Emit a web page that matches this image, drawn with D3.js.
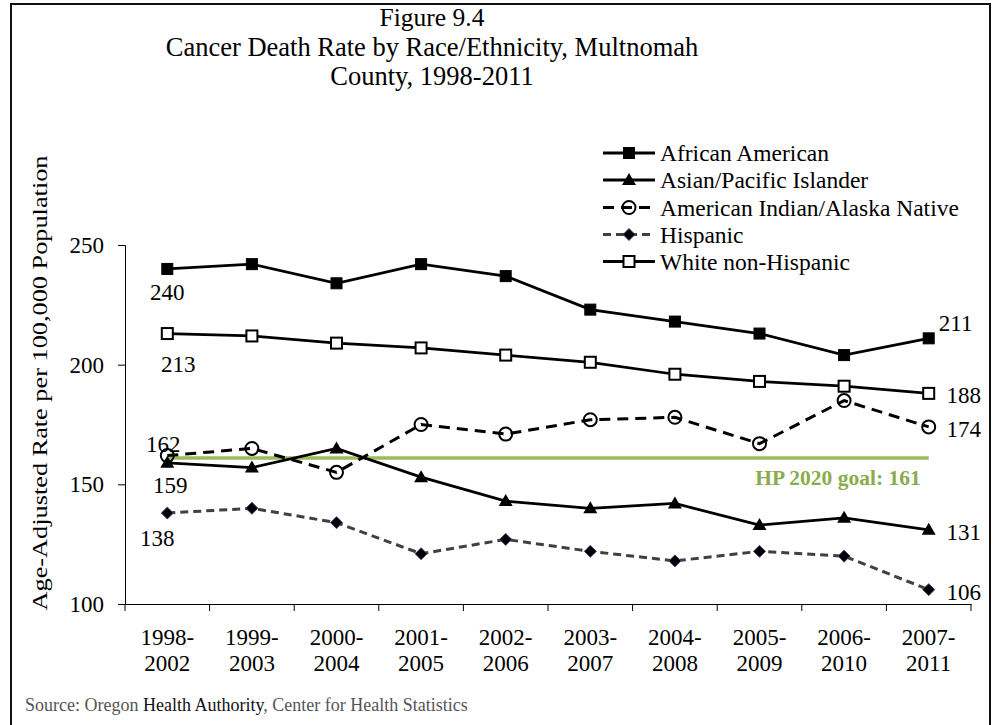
<!DOCTYPE html>
<html><head><meta charset="utf-8">
<script src="https://cdn.jsdelivr.net/npm/d3@7"></script>
<style>
html,body{margin:0;padding:0;background:#fff;}
svg text{font-family:"Liberation Serif","Times New Roman",serif;}
</style></head>
<body>
<svg id="chart" width="995" height="725"></svg>
<script>
const periods = ["1998-2002","1999-2003","2000-2004","2001-2005","2002-2006","2003-2007","2004-2008","2005-2009","2006-2010","2007-2011"];
const africanAmerican = [240,242,234,242,237,223,218,213,204,211];
const asianPacific = [159,157,165,153,143,140,142,133,136,131];
const americanIndian = [162,165,155,175,171,177,178,167,185,174];
const hispanic = [138,140,134,121,127,122,118,122,120,106];
const whiteNonHispanic = [213,212,209,207,204,201,196,193,191,188];
const yTicks = [100,150,200,250];
const goalValue = 161;
const titleLines = ["Figure 9.4","Cancer Death Rate by Race/Ethnicity, Multnomah","County, 1998-2011"];

const series = [
  {name:"African American", values:africanAmerican, marker:"square", fill:"#000", stroke:"#000", dash:null, lineColor:"#000"},
  {name:"Asian/Pacific Islander", values:asianPacific, marker:"triangle", fill:"#000", stroke:"#000", dash:null, lineColor:"#000"},
  {name:"American Indian/Alaska Native", values:americanIndian, marker:"circle", fill:"none", stroke:"#000", dash:"11,7", lineColor:"#000"},
  {name:"Hispanic", values:hispanic, marker:"diamond", fill:"#000", stroke:"#4b3a78", dash:"8,5", lineColor:"#404040"},
  {name:"White non-Hispanic", values:whiteNonHispanic, marker:"square", fill:"#fff", stroke:"#000", dash:null, lineColor:"#000"}
];

const svg = d3.select("#chart");
// frame
svg.append("path").attr("d","M11,726 V4 H990 V726").attr("fill","none").attr("stroke","#111").attr("stroke-width",2);

const x = d3.scaleBand().domain(periods).range([125,971]);
const y = d3.scaleLinear().domain([100,250]).range([604,245]);
const cx = p => x(p) + x.bandwidth()/2;

// title
svg.append("g").selectAll("text").data(titleLines).join("text")
  .attr("x",432).attr("y",(d,i)=>[26,56,85][i]).attr("text-anchor","middle")
  .attr("font-size",(d,i)=>i===0?25.5:26.5).attr("fill","#000").text(d=>d);

// axes
const yAxis = svg.append("g").attr("transform","translate(125,0)")
  .call(d3.axisLeft(y).tickValues(yTicks).tickSize(7).tickPadding(14));
yAxis.select(".domain").attr("stroke","#000");
yAxis.selectAll("text").attr("font-size",23).attr("font-family","Liberation Serif, Times New Roman, serif").attr("fill","#000");

const xAxis = svg.append("g").attr("transform","translate(0,604)")
  .call(d3.axisBottom(x).tickValues([]).tickSizeOuter(0));
xAxis.select(".domain").attr("stroke","#000");
svg.append("g").selectAll("line").data(d3.range(periods.length+1)).join("line")
  .attr("x1",i=>125+i*x.bandwidth()).attr("x2",i=>125+i*x.bandwidth())
  .attr("y1",604).attr("y2",611).attr("stroke","#000");

const xl = svg.append("g").selectAll("text").data(periods).join("text")
  .attr("x",d=>cx(d)).attr("text-anchor","middle").attr("font-size",23).attr("fill","#000");
xl.append("tspan").attr("x",d=>cx(d)).attr("y",645).text(d=>d.split("-")[0]+"-");
xl.append("tspan").attr("x",d=>cx(d)).attr("y",671).text(d=>d.split("-")[1]);

// y title
svg.append("text").attr("transform","translate(47,383) rotate(-90)")
  .attr("text-anchor","middle").attr("font-size",22).attr("fill","#000")
  .attr("textLength",455).attr("lengthAdjust","spacingAndGlyphs")
  .text("Age-Adjusted Rate per 100,000 Population");

// goal line
svg.append("line").attr("x1",cx(periods[0])).attr("x2",cx(periods[periods.length-1]))
  .attr("y1",y(goalValue)).attr("y2",y(goalValue)).attr("stroke","#9bbb59").attr("stroke-width",3.5);
svg.append("text").attr("x",838).attr("y",485).attr("text-anchor","middle")
  .attr("font-size",21.5).attr("font-weight","bold").attr("fill","#8aac4e")
  .text("HP 2020 goal: " + goalValue);

function drawMarker(g, s, px, py){
  if(s.marker==="square"){
    g.append("rect").attr("x",px-5.5).attr("y",py-5.5).attr("width",11).attr("height",11)
      .attr("fill",s.fill).attr("stroke",s.stroke).attr("stroke-width",s.fill==="#fff"?2:1);
  } else if(s.marker==="triangle"){
    g.append("path").attr("d",`M${px},${py-7} L${px+7},${py+5} L${px-7},${py+5} Z`).attr("fill","#000");
  } else if(s.marker==="circle"){
    g.append("circle").attr("cx",px).attr("cy",py).attr("r",6.5).attr("fill","none").attr("stroke","#000").attr("stroke-width",2);
  } else if(s.marker==="diamond"){
    g.append("path").attr("d",`M${px},${py-6} L${px+6},${py} L${px},${py+6} L${px-6},${py} Z`)
      .attr("fill","#000").attr("stroke",s.stroke).attr("stroke-width",1);
  }
}

const line = d3.line().x((d,i)=>cx(periods[i])).y(d=>y(d));
const drawOrder = [3,1,2,4,0];
drawOrder.forEach(k=>{
  const s = series[k];
  const g = svg.append("g");
  g.append("path").attr("d",line(s.values)).attr("fill","none").attr("stroke",s.lineColor)
    .attr("stroke-width",s.dash? 3 : 2.75).attr("stroke-dasharray",s.dash);
  s.values.forEach((v,i)=>drawMarker(g,s,cx(periods[i]),y(v)));
});

// data labels (first and last values)
const labelFirst = [
  {s:0, dx:0, dy:23},{s:4, dx:11, dy:30},{s:2, dx:-4, dy:-12},{s:1, dx:3, dy:22},{s:3, dx:-10, dy:25}
];
const labelLast = [
  {s:0, dx:27, dy:-15},{s:4, dx:35, dy:2},{s:2, dx:35, dy:2},{s:1, dx:35, dy:2},{s:3, dx:35, dy:2}
];
const lg = svg.append("g");
labelFirst.forEach(l=>{
  const v = series[l.s].values[0];
  lg.append("text").attr("x",cx(periods[0])+l.dx).attr("y",y(v)+l.dy).attr("dy","0.35em")
    .attr("text-anchor","middle").attr("font-size",23).attr("fill","#000").text(v);
});
labelLast.forEach(l=>{
  const n = periods.length-1, v = series[l.s].values[n];
  lg.append("text").attr("x",cx(periods[n])+l.dx).attr("y",y(v)+l.dy).attr("dy","0.35em")
    .attr("text-anchor","middle").attr("font-size",23).attr("fill","#000").text(v);
});

// legend
const legendRows = [153,180,207.5,234.5,261.5];
series.forEach((s,i)=>{
  const g = svg.append("g");
  const ly = legendRows[i];
  g.append("line").attr("x1",603).attr("x2",655).attr("y1",ly).attr("y2",ly)
    .attr("stroke",s.lineColor).attr("stroke-width",3).attr("stroke-dasharray",s.dash);
  drawMarker(g,s,629,ly);
  g.append("text").attr("x",660).attr("y",ly).attr("dy","0.35em").attr("font-size",23.5).attr("fill","#000").text(s.name);
});

// source
const src = svg.append("text").attr("x",25).attr("y",711).attr("font-size",18).attr("fill","#555");
src.append("tspan").text("Source: Oregon ");
src.append("tspan").attr("fill","#111").text("Health Authority");
src.append("tspan").text(", Center for Health Statistics");
</script>
</body></html>
